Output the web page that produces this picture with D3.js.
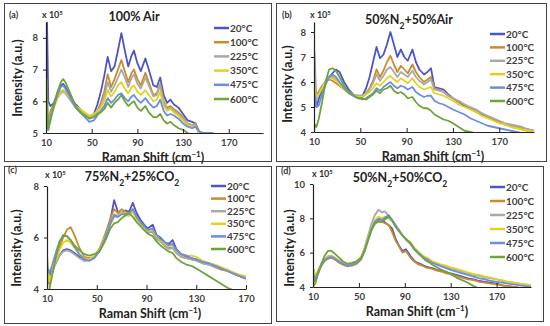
<!DOCTYPE html>
<html>
<head>
<meta charset="utf-8">
<script src="https://cdn.jsdelivr.net/npm/d3@7"></script>
<style>
    body { margin: 0; background: #fff; }
    svg { font-family: Lato, "Open Sans", sans-serif; font-weight: bold; }
</style>
</head>
<body>
<svg id="chart" width="550" height="326"></svg>
<script>
// series labels + colours (same order in every panel)
const tempLabels = ["20°C", "100°C", "225°C", "350°C", "475°C", "600°C"];
const tempColors = ["#4d55c6", "#c98b2c", "#a9a9a9", "#e3d21e", "#6b8ee0", "#6ea43c"];
const xTicks = [10, 50, 90, 130, 170];

// (a) 100% Air
const airX = [10, 10.7, 12, 14, 17, 20, 23, 25, 27, 30, 33, 36, 40, 44, 48, 52, 55, 58, 61, 64, 67, 70, 73, 76, 79, 82, 85, 87, 90, 93, 97, 100, 104, 107, 110, 113, 116, 119, 122, 126, 130, 134, 138, 141, 144, 148, 152, 156, 160];
const air20 = [9.0, 9.0, 6.0, 5.85, 5.95, 6.25, 6.5, 6.55, 6.45, 6.25, 6.05, 5.9, 5.75, 5.6, 5.5, 5.6, 5.9, 6.3, 6.8, 7.4, 6.95, 7.1, 7.6, 8.15, 7.6, 7.1, 7.45, 7.6, 7.2, 6.95, 7.35, 7.0, 6.5, 6.45, 6.75, 6.2, 5.95, 6.05, 5.9, 5.8, 5.6, 5.4, 5.35, 5.3, 5.05, 4.95, 4.85, 4.8, 4.7];
const air100 = [5.3, 5.6, 5.4, 5.7, 5.9, 6.15, 6.3, 6.35, 6.3, 6.15, 6.0, 5.85, 5.7, 5.6, 5.5, 5.55, 5.7, 5.95, 6.3, 6.85, 6.45, 6.7, 7.0, 7.3, 6.95, 6.6, 6.9, 7.0, 6.7, 6.5, 6.9, 6.6, 6.2, 6.25, 6.55, 6.0, 5.8, 5.85, 5.75, 5.65, 5.5, 5.3, 5.25, 5.3, 5.0, 4.9, 4.8, 4.75, 4.7];
const air225 = [5.1, 5.5, 5.3, 5.6, 5.85, 6.1, 6.25, 6.3, 6.25, 6.1, 5.95, 5.8, 5.65, 5.6, 5.5, 5.55, 5.65, 5.85, 6.15, 6.6, 6.3, 6.5, 6.75, 7.0, 6.75, 6.45, 6.75, 6.85, 6.55, 6.4, 6.75, 6.5, 6.15, 6.2, 6.5, 5.95, 5.75, 5.8, 5.7, 5.6, 5.45, 5.3, 5.25, 5.25, 5.0, 4.9, 4.8, 4.75, 4.7];
const air350 = [5.9, 5.7, 5.2, 5.5, 5.8, 6.1, 6.3, 6.35, 6.3, 6.15, 6.0, 5.85, 5.75, 5.65, 5.55, 5.6, 5.7, 5.8, 6.0, 6.35, 6.15, 6.3, 6.5, 6.6, 6.4, 6.25, 6.45, 6.5, 6.3, 6.2, 6.35, 6.2, 6.0, 6.05, 6.3, 5.85, 5.7, 5.75, 5.65, 5.55, 5.4, 5.25, 5.2, 5.2, 5.0, 4.9, 4.8, 4.75, 4.7];
const air475 = [5.0, 5.3, 5.1, 5.5, 5.85, 6.2, 6.45, 6.5, 6.4, 6.2, 6.0, 5.8, 5.65, 5.5, 5.35, 5.4, 5.55, 5.7, 5.85, 6.1, 5.95, 6.05, 6.2, 6.25, 6.1, 6.0, 6.15, 6.2, 6.05, 5.95, 6.1, 5.95, 5.8, 5.85, 6.05, 5.7, 5.55, 5.6, 5.55, 5.45, 5.3, 5.2, 5.15, 5.2, 5.05, 5.0, 5.0, 5.0, 4.9];
const air600 = [5.0, 6.7, 5.1, 5.4, 5.9, 6.3, 6.6, 6.7, 6.6, 6.35, 6.1, 5.85, 5.65, 5.55, 5.45, 5.5, 5.6, 5.65, 5.75, 5.95, 5.8, 5.95, 6.05, 6.2, 6.0, 5.85, 5.95, 6.0, 5.8, 5.7, 5.85, 5.65, 5.5, 5.5, 5.6, 5.4, 5.3, 5.35, 5.25, 5.15, 5.1, 5.0, 4.95, 4.9, 4.8, 4.7, 4.7, 4.6, 4.6];

// (b) 50%N2 + 50%Air
const n2AirX = [10, 10.7, 12, 14, 17, 20, 23, 26, 29, 32, 36, 40, 44, 48, 52, 55, 58, 61, 64, 67, 70, 73, 76, 79, 82, 85, 88, 91, 95, 98, 101, 105, 108, 111, 114, 118, 122, 126, 130, 135, 140, 145, 150, 155, 160, 165, 170, 175, 180, 185, 190, 195, 200];
const n2Air20 = [5.0, 5.5, 5.0, 5.3, 5.7, 6.0, 6.2, 6.35, 6.5, 6.4, 6.0, 5.7, 5.5, 5.4, 5.45, 5.75, 6.2, 6.8, 7.4, 6.95, 7.1, 7.5, 8.0, 7.5, 7.0, 7.3, 7.0, 6.85, 7.3, 6.8, 6.5, 6.3, 6.4, 6.55, 5.8, 5.75, 5.7, 5.5, 5.35, 5.2, 5.05, 4.95, 4.8, 4.7, 4.6, 4.5, 4.4, 4.3, 4.25, 4.2, 4.1, 4.05, 4.0];
const n2Air100 = [5.4, 5.9, 5.5, 5.6, 5.85, 6.0, 6.1, 6.05, 5.95, 5.85, 5.7, 5.6, 5.5, 5.45, 5.45, 5.55, 5.75, 6.05, 6.5, 6.2, 6.45, 6.8, 7.05, 6.7, 6.4, 6.65, 6.5, 6.35, 6.7, 6.4, 6.2, 6.0, 6.1, 6.2, 5.75, 5.7, 5.6, 5.45, 5.35, 5.2, 5.1, 4.95, 4.85, 4.75, 4.6, 4.5, 4.4, 4.3, 4.25, 4.2, 4.15, 4.1, 4.05];
const n2Air225 = [7.4, 7.0, 5.3, 5.5, 5.8, 6.05, 6.2, 6.2, 6.1, 5.95, 5.75, 5.6, 5.5, 5.45, 5.45, 5.55, 5.7, 5.95, 6.3, 6.05, 6.25, 6.5, 6.6, 6.4, 6.2, 6.4, 6.3, 6.2, 6.45, 6.2, 6.05, 5.9, 6.0, 6.1, 5.7, 5.65, 5.6, 5.45, 5.35, 5.25, 5.1, 5.0, 4.9, 4.75, 4.65, 4.55, 4.45, 4.35, 4.3, 4.25, 4.2, 4.1, 4.05];
const n2Air350 = [6.1, 5.6, 5.4, 5.5, 5.75, 6.0, 6.15, 6.15, 6.05, 5.9, 5.7, 5.55, 5.45, 5.4, 5.4, 5.5, 5.6, 5.75, 5.95, 5.85, 6.0, 6.15, 6.25, 6.1, 6.0, 6.15, 6.05, 5.95, 6.15, 5.95, 5.8, 5.7, 5.75, 5.8, 5.55, 5.5, 5.45, 5.35, 5.25, 5.1, 5.0, 4.9, 4.8, 4.65, 4.55, 4.45, 4.35, 4.3, 4.2, 4.15, 4.1, 4.05, 4.0];
const n2Air475 = [4.8, 5.5, 5.0, 5.05, 5.5, 5.9, 6.2, 6.3, 6.2, 6.0, 5.75, 5.55, 5.45, 5.35, 5.3, 5.35, 5.45, 5.55, 5.75, 5.65, 5.8, 5.9, 6.0, 5.85, 5.75, 5.85, 5.8, 5.7, 5.8, 5.6, 5.5, 5.4, 5.45, 5.45, 5.25, 5.15, 5.1, 5.0, 4.9, 4.8, 4.7, 4.55, 4.45, 4.35, 4.25, 4.2, 4.15, 4.1, 4.05, 4.0, 3.95, 3.9, 3.85];
const n2Air600 = [3.9, 4.3, 4.2, 4.5, 5.2, 6.0, 6.5, 6.55, 6.45, 6.2, 5.85, 5.6, 5.45, 5.35, 5.35, 5.3, 5.4, 5.5, 5.65, 5.55, 5.7, 5.75, 5.85, 5.65, 5.55, 5.6, 5.5, 5.35, 5.4, 5.2, 5.05, 4.95, 4.95, 4.85, 4.7, 4.6, 4.5, 4.45, 4.35, 4.2, 4.05, 4.0, 3.95, 3.95, 3.9, 3.85, 3.8, 3.8, 3.75, 3.75, 3.7, 3.7, 3.7];

// (c) 75%N2 + 25%CO2
const n2Co2X = [10, 10.7, 12, 14, 17, 20, 23, 26, 29, 32, 36, 40, 44, 48, 52, 55, 58, 61, 64, 67, 70, 73, 76, 79, 82, 85, 88, 91, 95, 98, 101, 105, 108, 111, 114, 118, 122, 126, 130, 135, 140, 145, 150, 155, 160, 165, 170];
const n2Co2_20 = [4.2, 4.8, 4.5, 4.7, 5.0, 5.3, 5.5, 5.55, 5.5, 5.4, 5.25, 5.1, 5.15, 5.25, 5.45, 5.8, 6.2, 6.7, 7.45, 7.0, 6.95, 7.05, 7.0, 7.35, 6.95, 6.7, 6.5, 6.35, 6.5, 6.1, 6.0, 5.8, 5.75, 5.9, 5.55, 5.35, 5.25, 5.2, 5.15, 5.05, 5.0, 4.9, 4.8, 4.75, 4.6, 4.5, 4.4];
const n2Co2_100 = [4.0, 4.3, 4.2, 4.6, 5.1, 5.6, 6.0, 6.3, 6.4, 6.1, 5.6, 5.25, 5.2, 5.25, 5.55, 5.9, 6.3, 6.75, 7.1, 6.95, 7.1, 7.0, 6.95, 7.1, 6.8, 6.6, 6.35, 6.25, 6.2, 5.95, 5.85, 5.7, 5.6, 5.6, 5.4, 5.25, 5.2, 5.15, 5.1, 5.0, 4.95, 4.85, 4.75, 4.7, 4.6, 4.5, 4.45];
const n2Co2_225 = [4.1, 4.5, 4.3, 4.6, 5.0, 5.3, 5.45, 5.5, 5.45, 5.35, 5.2, 5.1, 5.1, 5.25, 5.5, 5.8, 6.2, 6.6, 6.9, 6.85, 7.0, 6.9, 6.85, 7.05, 6.75, 6.5, 6.3, 6.2, 6.25, 5.95, 5.85, 5.65, 5.55, 5.6, 5.4, 5.25, 5.2, 5.15, 5.1, 5.0, 4.95, 4.85, 4.8, 4.7, 4.6, 4.5, 4.45];
const n2Co2_350 = [5.35, 5.0, 4.3, 4.6, 5.1, 5.5, 5.8, 5.9, 5.8, 5.6, 5.35, 5.2, 5.15, 5.3, 5.5, 5.8, 6.15, 6.5, 6.8, 6.8, 6.95, 6.85, 6.85, 7.0, 6.7, 6.5, 6.35, 6.25, 6.3, 6.05, 5.9, 5.75, 5.65, 5.7, 5.5, 5.35, 5.3, 5.3, 5.25, 5.1, 5.0, 4.95, 4.85, 4.75, 4.65, 4.55, 4.5];
const n2Co2_475 = [4.6, 4.8, 4.6, 4.9, 5.4, 5.85, 6.05, 6.05, 5.9, 5.65, 5.35, 5.15, 5.1, 5.2, 5.45, 5.75, 6.15, 6.55, 6.85, 6.8, 6.9, 6.9, 6.95, 7.1, 6.8, 6.6, 6.45, 6.3, 6.35, 6.1, 5.95, 5.8, 5.7, 5.75, 5.5, 5.35, 5.3, 5.2, 5.15, 5.05, 5.0, 4.9, 4.8, 4.7, 4.6, 4.5, 4.4];
const n2Co2_600 = [3.8, 3.9, 4.0, 4.5, 5.2, 5.8, 6.1, 6.05, 5.9, 5.7, 5.5, 5.35, 5.3, 5.35, 5.45, 5.7, 6.0, 6.35, 6.55, 6.6, 6.75, 6.85, 6.95, 6.8, 6.6, 6.45, 6.3, 6.15, 6.05, 5.85, 5.7, 5.55, 5.45, 5.4, 5.2, 5.05, 4.95, 4.9, 4.8, 4.65, 4.5, 4.35, 4.2, 4.05, 3.95, 3.9, 3.85];

// (d) 50%N2 + 50%CO2
const co2X = [10, 10.7, 12, 14, 17, 20, 23, 26, 29, 32, 36, 40, 44, 48, 52, 55, 58, 61, 64, 67, 70, 73, 76, 79, 82, 85, 88, 91, 95, 98, 101, 105, 108, 111, 114, 118, 122, 126, 130, 135, 140, 145, 150, 155, 160, 165, 170, 175, 180, 185, 190, 195, 200];
const co2_20 = [4.3, 4.6, 4.4, 4.8, 5.3, 5.6, 5.75, 5.8, 5.7, 5.55, 5.35, 5.25, 5.3, 5.4, 5.7, 6.2, 6.9, 7.5, 7.85, 8.0, 7.9, 7.75, 7.6, 7.4, 6.8, 6.4, 6.1, 6.2, 5.8, 5.55, 5.4, 5.3, 5.2, 5.15, 5.1, 5.0, 4.95, 4.85, 4.8, 4.7, 4.6, 4.5, 4.45, 4.35, 4.3, 4.25, 4.2, 4.1, 4.05, 4.0, 3.95, 3.9, 3.85];
const co2_100 = [4.2, 4.5, 4.3, 4.7, 5.2, 5.5, 5.65, 5.7, 5.6, 5.45, 5.3, 5.2, 5.25, 5.35, 5.6, 6.1, 6.8, 7.4, 7.7, 7.85, 7.8, 7.7, 7.6, 7.2, 6.7, 6.35, 6.0, 6.1, 5.7, 5.5, 5.35, 5.25, 5.15, 5.1, 5.05, 4.95, 4.9, 4.8, 4.75, 4.65, 4.55, 4.45, 4.4, 4.3, 4.25, 4.2, 4.15, 4.1, 4.05, 4.0, 3.95, 3.9, 3.85];
const co2_225 = [4.7, 5.0, 4.6, 4.9, 5.3, 5.6, 5.8, 5.8, 5.7, 5.55, 5.4, 5.3, 5.35, 5.45, 5.75, 6.3, 7.0, 7.7, 8.2, 8.5, 8.35, 8.4, 8.1, 7.9, 7.6, 7.3, 7.0, 6.8, 6.6, 6.3, 6.1, 5.85, 5.7, 5.6, 5.45, 5.35, 5.25, 5.15, 5.1, 5.0, 4.9, 4.8, 4.7, 4.65, 4.55, 4.5, 4.45, 4.35, 4.3, 4.25, 4.2, 4.15, 4.1];
const co2_350 = [5.1, 4.9, 4.6, 4.9, 5.3, 5.6, 5.75, 5.8, 5.7, 5.55, 5.4, 5.35, 5.4, 5.5, 5.75, 6.2, 6.9, 7.5, 7.9, 8.1, 8.0, 8.1, 8.0, 7.85, 7.55, 7.25, 7.0, 6.8, 6.6, 6.3, 6.1, 5.85, 5.75, 5.65, 5.5, 5.4, 5.3, 5.25, 5.15, 5.05, 4.95, 4.85, 4.75, 4.7, 4.6, 4.55, 4.45, 4.4, 4.3, 4.25, 4.2, 4.15, 4.1];
const co2_475 = [4.5, 4.7, 4.4, 4.8, 5.25, 5.55, 5.7, 5.75, 5.65, 5.5, 5.35, 5.25, 5.3, 5.4, 5.65, 6.1, 6.8, 7.4, 7.8, 7.95, 7.9, 8.05, 8.2, 7.9, 7.6, 7.3, 7.0, 6.75, 6.55, 6.25, 6.05, 5.8, 5.65, 5.55, 5.4, 5.3, 5.2, 5.1, 5.0, 4.9, 4.8, 4.7, 4.6, 4.5, 4.45, 4.35, 4.3, 4.25, 4.2, 4.15, 4.1, 4.05, 4.0];
const co2_600 = [4.0, 4.1, 4.2, 4.7, 5.3, 5.8, 6.1, 6.1, 5.95, 5.75, 5.5, 5.35, 5.4, 5.5, 5.7, 6.1, 6.7, 7.3, 7.7, 7.8, 7.8, 7.95, 8.1, 7.85, 7.5, 7.25, 7.0, 6.8, 6.5, 6.2, 6.0, 5.75, 5.55, 5.45, 5.3, 5.15, 5.0, 4.9, 4.75, 4.55, 4.4, 4.25, 4.05, 3.9, 3.8, 3.75, 3.7, 3.7, 3.65, 3.65, 3.6, 3.6, 3.6];

// panel layout (page pixels)
const panels = [
    { tag: "(a)", title: [["100% Air"]], box: [4, 3, 271, 161],
      plot: { l: 46, r: 263, t: 22, b: 133 }, xDomain: [10, 200], yDomain: [5, 8.5], yTicks: [5, 6, 7, 8],
      titlePos: [134, 17], yTitlePos: [18, 78], xTitleX: 153, legend: [214, 28, 14.2],
      expPos: [42, 15], tagPos: [9, 15],
      xs: airX, ys: [air20, air100, air225, air350, air475, air600] },
    { tag: "(b)", title: [["50%N"], ["2", true], ["+50%Air"]], box: [276, 3, 546, 161],
      plot: { l: 314, r: 534, t: 22, b: 132 }, xDomain: [10, 200], yDomain: [4, 8.4], yTicks: [4, 5, 6, 7, 8],
      titlePos: [409, 20], yTitlePos: [288, 84], xTitleX: 433, legend: [490, 34, 13.4],
      expPos: [310, 15], tagPos: [282, 15],
      xs: n2AirX, ys: [n2Air20, n2Air100, n2Air225, n2Air350, n2Air475, n2Air600] },
    { tag: "(c)", title: [["75%N"], ["2", true], ["+25%CO"], ["2", true]], box: [4, 166, 271, 323],
      plot: { l: 47, r: 246, t: 186, b: 289 }, xDomain: [10, 170], yDomain: [4, 8], yTicks: [4, 6, 8],
      titlePos: [132, 177], yTitlePos: [17, 248], xTitleX: 150, legend: [211, 186, 12.6],
      expPos: [45, 175], tagPos: [8, 170],
      xs: n2Co2X, ys: [n2Co2_20, n2Co2_100, n2Co2_225, n2Co2_350, n2Co2_475, n2Co2_600] },
    { tag: "(d)", title: [["50%N"], ["2", true], ["+50%CO"], ["2", true]], box: [276, 166, 543, 321],
      plot: { l: 313, r: 531, t: 184, b: 287 }, xDomain: [10, 200], yDomain: [4, 10], yTicks: [4, 6, 8, 10],
      titlePos: [400, 178], yTitlePos: [290, 248], xTitleX: 417, legend: [490, 187, 14],
      expPos: [312, 174], tagPos: [281, 171],
      xs: co2X, ys: [co2_20, co2_100, co2_225, co2_350, co2_475, co2_600] }
];

const svg = d3.select("#chart");
svg.append("rect").attr("width", 550).attr("height", 326).attr("fill", "#fff");

panels.forEach((p, pi) => drawPanel(p, pi));

function drawPanel(p, pi) {
    const g = svg.append("g");

    // panel frame
    g.append("rect")
        .attr("x", p.box[0] + 0.5).attr("y", p.box[1] + 0.5)
        .attr("width", p.box[2] - p.box[0]).attr("height", p.box[3] - p.box[1])
        .attr("fill", "none").attr("stroke", "#444").attr("stroke-width", 1);

    const x = d3.scaleLinear().domain(p.xDomain).range([p.plot.l, p.plot.r]);
    const y = d3.scaleLinear().domain(p.yDomain).range([p.plot.b, p.plot.t]);

    // clip so spikes / tails stay inside the plot area
    const clipId = "clip" + pi;
    svg.append("clipPath").attr("id", clipId)
        .append("rect")
        .attr("x", p.plot.l).attr("y", p.plot.t)
        .attr("width", p.plot.r - p.plot.l).attr("height", p.plot.b - p.plot.t);

    const line = d3.line()
        .x((d) => x(d[0]))
        .y((d) => y(d[1]));

    const lines = g.append("g").attr("clip-path", `url(#${clipId})`);
    p.ys.forEach((vals, si) => {
        const pts = vals.map((v, k) => [p.xs[k], v]);
        lines.append("path")
            .datum(pts)
            .attr("d", line)
            .attr("fill", "none")
            .attr("stroke", tempColors[si])
            .attr("stroke-width", 1.8)
            .attr("stroke-linejoin", "round");
    });

    // axes
    const xAxis = g.append("g")
        .attr("transform", `translate(0,${p.plot.b})`)
        .call(d3.axisBottom(x).tickValues(xTicks.filter((t) => t <= p.xDomain[1]))
            .tickSizeInner(-4).tickSizeOuter(0).tickPadding(6).tickFormat(d3.format("d")));
    const yAxis = g.append("g")
        .attr("transform", `translate(${p.plot.l},0)`)
        .call(d3.axisLeft(y).tickValues(p.yTicks)
            .tickSizeInner(3).tickSizeOuter(0).tickPadding(5).tickFormat(d3.format("d")));
    [xAxis, yAxis].forEach((ax) => {
        ax.select(".domain").attr("stroke", "#222").attr("stroke-width", 1.2);
        ax.selectAll(".tick line").attr("stroke", "#222").attr("stroke-width", 1);
        ax.selectAll("text")
            .attr("fill", "#404040")
            .style("font-family", "Lato, 'Open Sans', sans-serif")
            .style("font-weight", "bold")
            .style("font-size", "9.5px");
    });

    // title
    const title = g.append("text")
        .attr("x", p.titlePos[0]).attr("y", p.titlePos[1])
        .attr("text-anchor", "middle").attr("dy", "0.35em")
        .attr("fill", "#222").style("font-size", "12.5px");
    p.title.forEach(([txt, sub]) => {
        const t = title.append("tspan").text(txt);
        if (sub) t.attr("baseline-shift", "sub").style("font-size", "8.5px");
    });

    // panel tag + exponent
    g.append("text").attr("x", p.tagPos[0]).attr("y", p.tagPos[1]).attr("dy", "0.35em")
        .attr("fill", "#333").style("font-size", "9px").text(p.tag);
    const expo = g.append("text").attr("x", p.expPos[0]).attr("y", p.expPos[1]).attr("dy", "0.35em")
        .attr("fill", "#333").style("font-size", "9px");
    expo.append("tspan").text("x 10");
    expo.append("tspan").attr("baseline-shift", "super").style("font-size", "6px").text("5");

    // axis titles
    g.append("text")
        .attr("transform", `translate(${p.yTitlePos[0]},${p.yTitlePos[1]}) rotate(-90)`)
        .attr("text-anchor", "middle").attr("dy", "0.35em")
        .attr("fill", "#222").style("font-size", "12.5px")
        .text("Intensity (a.u.)");
    const xt = g.append("text")
        .attr("x", p.xTitleX).attr("y", p.plot.b + 24.5)
        .attr("text-anchor", "middle").attr("dy", "0.35em")
        .attr("fill", "#222").style("font-size", "12.5px");
    xt.append("tspan").text("Raman Shift (cm");
    xt.append("tspan").attr("baseline-shift", "super").style("font-size", "8px").text("−1");
    xt.append("tspan").text(")");

    // legend
    const [lx, ly, step] = p.legend;
    tempLabels.forEach((lab, si) => {
        const yy = ly + si * step;
        g.append("line")
            .attr("x1", lx).attr("x2", lx + 15).attr("y1", yy).attr("y2", yy)
            .attr("stroke", tempColors[si]).attr("stroke-width", 2.5);
        g.append("text")
            .attr("x", lx + 16).attr("y", yy).attr("dy", "0.35em")
            .attr("fill", "#404040").style("font-size", "10px")
            .text(lab);
    });
}
</script>
</body>
</html>
